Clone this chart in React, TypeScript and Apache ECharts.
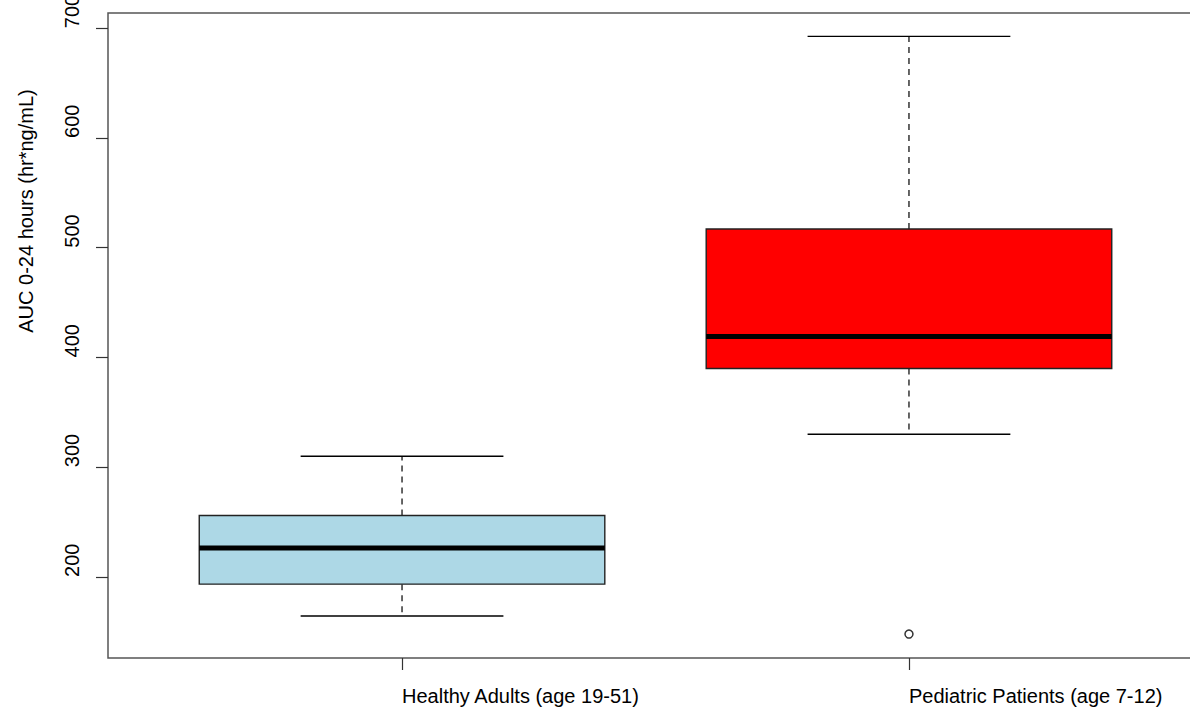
import React, { useEffect, useRef } from "react";
import * as echarts from "echarts";

const categories = ["Healthy Adults (age 19-51)", "Pediatric Patients (age 7-12)"];
const lowerWhisker = [164.5, 330];
const q1 = [193.5, 390];
const median = [226.5, 419];
const q3 = [256, 517];
const upperWhisker = [310, 692.5];
const boxColors = ["#ADD8E6", "#FF0000"];
const outliers: [number, number][] = [[2, 148]];
const yTicks = [200, 300, 400, 500, 600, 700];
const yTitle = "AUC 0-24 hours (hr*ng/mL)";

const FONT = "'Liberation Sans', Arial, Helvetica, sans-serif";

export default function App() {
  const ref = useRef<HTMLDivElement>(null);
  useEffect(() => {
    if (!ref.current) return;
    const chart = echarts.init(ref.current, undefined, { renderer: "svg" });
    const boxData = categories.map((_, i) => [
      i + 1,
      lowerWhisker[i],
      q1[i],
      median[i],
      q3[i],
      upperWhisker[i],
    ]);
    chart.setOption({
      animation: false,
      backgroundColor: "#fff",
      grid: {
        left: 108,
        top: 13,
        width: 1095,
        height: 645,
        show: true,
        borderColor: "#555",
        borderWidth: 1.5,
        backgroundColor: "transparent",
        containLabel: false,
        outerBoundsMode: "none",
      },
      xAxis: {
        type: "value",
        min: 0.42,
        max: 2.58,
        splitLine: { show: false },
        axisLine: { show: false },
        axisTick: {
          show: true,
          length: 12,
          customValues: [1, 2],
          lineStyle: { color: "#333", width: 1.2 },
        },
        axisLabel: {
          customValues: [1, 2],
          formatter: (v: number) => categories[Math.round(v) - 1] ?? "",
          align: "left",
          margin: 28,
          fontSize: 20,
          color: "#000",
          fontFamily: FONT,
        },
      },
      yAxis: {
        type: "value",
        min: 126.2,
        max: 713.8,
        splitLine: { show: false },
        axisLine: { show: false },
        axisTick: {
          show: true,
          length: 12,
          customValues: yTicks,
          lineStyle: { color: "#333", width: 1.2 },
        },
        axisLabel: {
          customValues: yTicks,
          rotate: 90,
          align: "left",
          verticalAlign: "bottom",
          margin: 26,
          fontSize: 20,
          color: "#000",
          fontFamily: FONT,
        },
      },
      graphic: [
        {
          type: "text",
          x: 26,
          y: 211,
          rotation: Math.PI / 2,
          style: {
            text: yTitle,
            fontSize: 20,
            fontFamily: FONT,
            fill: "#000",
            align: "center",
            verticalAlign: "middle",
          },
        },
      ],
      series: [
        {
          type: "custom",
          data: boxData,
          clip: false,
          renderItem: (params: any, api: any) => {
            const xv = api.value(0);
            const idx = params.dataIndex;
            const pLow = api.coord([xv, api.value(1)]);
            const pQ1 = api.coord([xv, api.value(2)]);
            const pMed = api.coord([xv, api.value(3)]);
            const pQ3 = api.coord([xv, api.value(4)]);
            const pHigh = api.coord([xv, api.value(5)]);
            const halfBox = api.size([0.4, 0])[0];
            const halfCap = api.size([0.2, 0])[0];
            const cx = pMed[0];
            const dash = { stroke: "#000", lineWidth: 1.2, lineDash: [6, 5] };
            const solid = { stroke: "#000", lineWidth: 1.4 };
            return {
              type: "group",
              children: [
                { type: "line", shape: { x1: cx, y1: pQ3[1], x2: cx, y2: pHigh[1] }, style: dash },
                { type: "line", shape: { x1: cx, y1: pQ1[1], x2: cx, y2: pLow[1] }, style: dash },
                { type: "line", shape: { x1: cx - halfCap, y1: pHigh[1], x2: cx + halfCap, y2: pHigh[1] }, style: solid },
                { type: "line", shape: { x1: cx - halfCap, y1: pLow[1], x2: cx + halfCap, y2: pLow[1] }, style: solid },
                {
                  type: "rect",
                  shape: { x: cx - halfBox, y: pQ3[1], width: halfBox * 2, height: pQ1[1] - pQ3[1] },
                  style: { fill: boxColors[idx], stroke: "#222", lineWidth: 1.4 },
                },
                {
                  type: "line",
                  shape: { x1: cx - halfBox, y1: pMed[1], x2: cx + halfBox, y2: pMed[1] },
                  style: { stroke: "#000", lineWidth: 5 },
                },
              ],
            };
          },
        },
        {
          type: "scatter",
          data: outliers,
          symbol: "circle",
          symbolSize: 8,
          itemStyle: { color: "#fff", borderColor: "#000", borderWidth: 1.5 },
        },
      ],
    });
    return () => chart.dispose();
  }, []);
  return (
    <div style={{ position: "absolute", left: 0, top: 0, width: 1190, height: 709, overflow: "hidden", background: "#fff" }}>
      <div ref={ref} style={{ width: 1220, height: 709 }} />
    </div>
  );
}
